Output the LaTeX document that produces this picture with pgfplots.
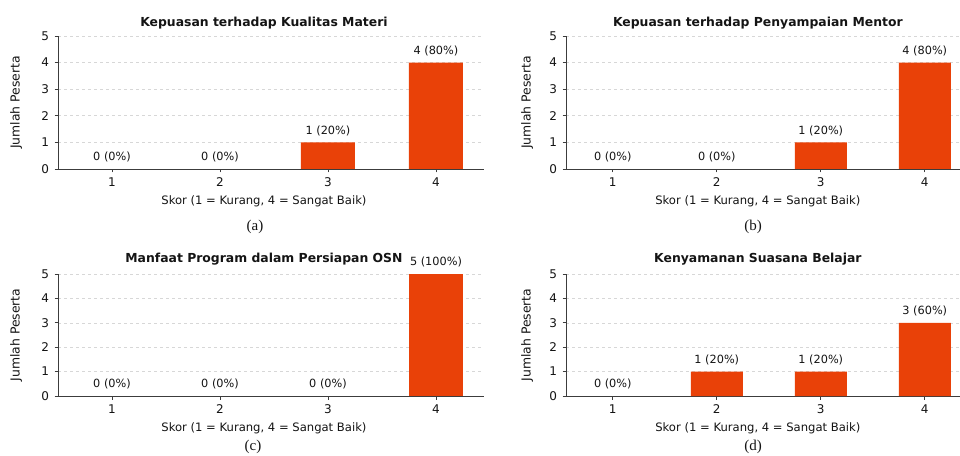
\documentclass[border=0pt]{standalone}
\usepackage{pgfplots}
\pgfplotsset{compat=1.18}
\usepackage{fontspec}
\setmainfont{DejaVu Sans}
\newfontfamily\seriffont{Liberation Serif}
\definecolor{barc}{RGB}{233,65,8}
\definecolor{spine}{RGB}{60,60,60}
\definecolor{gridc}{RGB}{215,215,215}
\definecolor{txt}{RGB}{20,20,20}
\pgfplotsset{
 panel/.style={
  scale only axis, anchor=south west, ymin=0, ymax=5, ytick={0,1,2,3,4,5}, xtick={1,2,3,4},
  axis x line*=bottom, axis y line*=left,
  axis line style={spine, line width=0.9pt},
  tick style={spine, line width=0.8pt}, tick align=outside, major tick length=3.5pt,
  ymajorgrids, grid style={gridc, dashed, line width=0.6pt},
  ticklabel style={font=\fontsize{12}{13}\selectfont, text=txt},
  xticklabel style={yshift=-1.5pt},
  yticklabel style={xshift=-2pt},
  /pgf/number format/assume math mode=true,
  ylabel={Jumlah Peserta}, xlabel={Skor (1 = Kurang, 4 = Sangat Baik)},
  xlabel style={font=\fontsize{11.6}{13}\selectfont, text=txt},
  ylabel style={font=\fontsize{12.4}{14}\selectfont, text=txt},
  title style={font=\bfseries\fontsize{12.4}{14}\selectfont, text=txt, anchor=center, yshift=7pt},
  ybar, bar width=0.5, bar shift=0pt, clip=false,
  nodes near coords, point meta=explicit symbolic,
  every node near coord/.append style={font=\fontsize{11.3}{13}\selectfont, anchor=south, inner sep=0pt, yshift=6.5pt, text=txt},
 },
 leftpanel/.style={panel, width=425.5pt, xmin=0.5, xmax=4.44,
  title style={at={(0.484,1)}},
  xlabel style={at={(axis description cs:0.484,0)}, anchor=center, yshift=-32pt},
  ylabel style={at={(axis description cs:-0.0986,0.5)}, anchor=center},
 },
 rightpanel/.style={panel, width=405.6pt, xmin=0.55, xmax=4.45,
  title style={at={(0.473,1)}},
  xlabel style={at={(axis description cs:0.473,0)}, anchor=center, yshift=-32pt},
  ylabel style={at={(axis description cs:-0.096,0.5)}, anchor=center},
 },
}
\begin{document}
\begin{tikzpicture}[x=1pt,y=1pt]
\useasboundingbox (0,0) rectangle (960,455);
\clip (0,0) rectangle (960,455);
\fill[white] (0,0) rectangle (960,455);
% (a)
\begin{axis}[leftpanel, at={(58pt,286pt)}, height=133pt,
  title={Kepuasan terhadap Kualitas Materi}]
\addplot[fill=none, draw=none] coordinates {(1,0) [0 (0\%)] (2,0) [0 (0\%)]};
\addplot[fill=barc, draw=none] coordinates {(3,1) [1 (20\%)] (4,4) [4 (80\%)]};
\end{axis}
% (b)
\begin{axis}[rightpanel, at={(566pt,286pt)}, height=133pt,
  title={Kepuasan terhadap Penyampaian Mentor}]
\addplot[fill=none, draw=none] coordinates {(1,0) [0 (0\%)] (2,0) [0 (0\%)]};
\addplot[fill=barc, draw=none] coordinates {(3,1) [1 (20\%)] (4,4) [4 (80\%)]};
\end{axis}
% (c)
\begin{axis}[leftpanel, at={(58pt,59pt)}, height=122pt,
  title={Manfaat Program dalam Persiapan OSN}, title style={yshift=2pt}]
\addplot[fill=none, draw=none] coordinates {(1,0) [0 (0\%)] (2,0) [0 (0\%)] (3,0) [0 (0\%)]};
\addplot[fill=barc, draw=none] coordinates {(4,5) [5 (100\%)]};
\end{axis}
% (d)
\begin{axis}[rightpanel, at={(566pt,59pt)}, height=122pt,
  title={Kenyamanan Suasana Belajar}, title style={yshift=2pt}]
\addplot[fill=none, draw=none] coordinates {(1,0) [0 (0\%)]};
\addplot[fill=barc, draw=none] coordinates {(2,1) [1 (20\%)] (3,1) [1 (20\%)] (4,3) [3 (60\%)]};
\end{axis}
\node[font=\seriffont\fontsize{15}{17}\selectfont, text=txt] at (255,228) {(a)};
\node[font=\seriffont\fontsize{15}{17}\selectfont, text=txt] at (753,228) {(b)};
\node[font=\seriffont\fontsize{15}{17}\selectfont, text=txt] at (253,8) {(c)};
\node[font=\seriffont\fontsize{15}{17}\selectfont, text=txt] at (753,8) {(d)};
\end{tikzpicture}
\end{document}
